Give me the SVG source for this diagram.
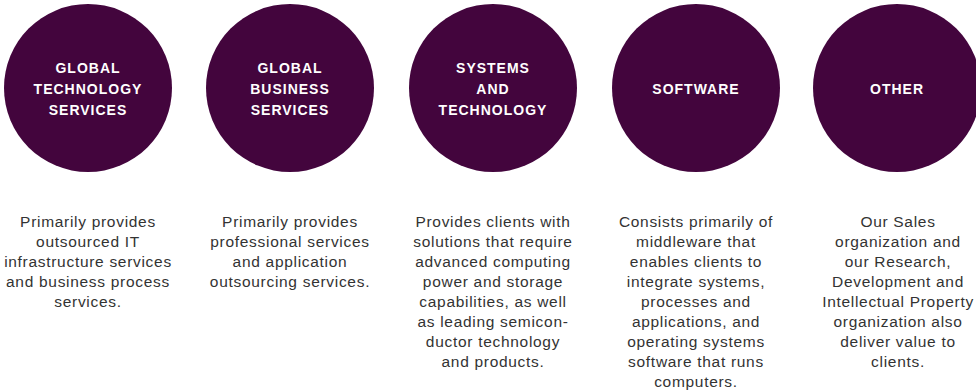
<svg xmlns="http://www.w3.org/2000/svg" width="976" height="391" viewBox="0 0 976 391">
<style>
.c{fill:#43053d}
.t{font-family:"Liberation Sans",Arial,sans-serif;font-weight:bold;font-size:14px;letter-spacing:1px;fill:#ffffff;text-anchor:middle}
.d{font-family:"Liberation Sans",Arial,sans-serif;font-size:15.5px;letter-spacing:0.7px;fill:#333333;text-anchor:middle}
</style>
<rect width="976" height="391" fill="#ffffff"/>
<g id="gts">
<circle class="c" cx="88" cy="88" r="84"/>
<text class="t" x="88" y="73">GLOBAL</text>
<text class="t" x="88" y="94">TECHNOLOGY</text>
<text class="t" x="88" y="115">SERVICES</text>
<text class="d" x="88" y="227">Primarily provides</text>
<text class="d" x="88" y="247">outsourced IT</text>
<text class="d" x="88" y="267">infrastructure services</text>
<text class="d" x="88" y="287">and business process</text>
<text class="d" x="88" y="307">services.</text>
</g>
<g id="gbs">
<circle class="c" cx="290" cy="88" r="84"/>
<text class="t" x="290" y="73">GLOBAL</text>
<text class="t" x="290" y="94">BUSINESS</text>
<text class="t" x="290" y="115">SERVICES</text>
<text class="d" x="290" y="227">Primarily provides</text>
<text class="d" x="290" y="247">professional services</text>
<text class="d" x="290" y="267">and application</text>
<text class="d" x="290" y="287">outsourcing services.</text>
</g>
<g id="st">
<circle class="c" cx="493" cy="88" r="84"/>
<text class="t" x="493" y="73">SYSTEMS</text>
<text class="t" x="493" y="94">AND</text>
<text class="t" x="493" y="115">TECHNOLOGY</text>
<text class="d" x="493" y="227">Provides clients with</text>
<text class="d" x="493" y="247">solutions that require</text>
<text class="d" x="493" y="267">advanced computing</text>
<text class="d" x="493" y="287">power and storage</text>
<text class="d" x="493" y="307">capabilities, as well</text>
<text class="d" x="493" y="327">as leading semicon-</text>
<text class="d" x="493" y="347">ductor technology</text>
<text class="d" x="493" y="367">and products.</text>
</g>
<g id="sw">
<circle class="c" cx="696" cy="88" r="84"/>
<text class="t" x="696" y="94">SOFTWARE</text>
<text class="d" x="696" y="227">Consists primarily of</text>
<text class="d" x="696" y="247">middleware that</text>
<text class="d" x="696" y="267">enables clients to</text>
<text class="d" x="696" y="287">integrate systems,</text>
<text class="d" x="696" y="307">processes and</text>
<text class="d" x="696" y="327">applications, and</text>
<text class="d" x="696" y="347">operating systems</text>
<text class="d" x="696" y="367">software that runs</text>
<text class="d" x="696" y="387">computers.</text>
</g>
<g id="other">
<circle class="c" cx="897" cy="88" r="84"/>
<text class="t" x="897" y="94">OTHER</text>
<text class="d" x="898" y="227">Our Sales</text>
<text class="d" x="898" y="247">organization and</text>
<text class="d" x="898" y="267">our Research,</text>
<text class="d" x="898" y="287">Development and</text>
<text class="d" x="898" y="307">Intellectual Property</text>
<text class="d" x="898" y="327">organization also</text>
<text class="d" x="898" y="347">deliver value to</text>
<text class="d" x="898" y="367">clients.</text>
</g>
<g id="connectors"></g>
</svg>
